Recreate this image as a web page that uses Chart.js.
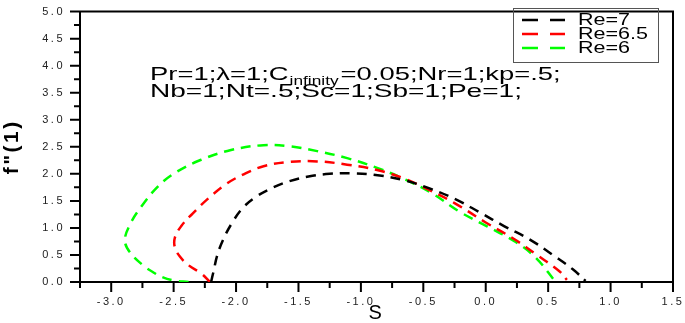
<!DOCTYPE html>
<html lang="en">
<head>
<meta charset="UTF-8">
<title>f"(1) against S</title>
<script src="https://cdn.jsdelivr.net/npm/chart.js@4.4.1/dist/chart.umd.min.js"></script>
<style>
  html, body { margin: 0; padding: 0; background: #fff; }
</style>
</head>
<body>
<canvas id="chart" width="685" height="323"></canvas>
<script>
// S values and f"(1) values
const sRe7 = [-2.20, -2.18, -2.15, -2.10, -2.03, -1.95, -1.85, -1.72, -1.58, -1.42, -1.25, -1.05, -0.85, -0.65, -0.45, -0.25, -0.05, 0.15, 0.35, 0.55, 0.70, 0.80];
const fRe7 = [0.00, 0.20, 0.50, 0.80, 1.10, 1.36, 1.56, 1.73, 1.86, 1.95, 2.00, 2.01, 1.97, 1.88, 1.73, 1.54, 1.29, 1.03, 0.79, 0.48, 0.23, 0.02];

const sRe65 = [-2.21, -2.28, -2.38, -2.45, -2.49, -2.49, -2.44, -2.35, -2.22, -2.08, -1.95, -1.78, -1.57, -1.35, -1.11, -0.87, -0.65, -0.45, -0.25, 0.00, 0.23, 0.41, 0.59, 0.65];
const fRe65 = [0.00, 0.16, 0.31, 0.47, 0.64, 0.82, 1.03, 1.26, 1.55, 1.81, 1.98, 2.14, 2.22, 2.23, 2.17, 2.07, 1.91, 1.70, 1.46, 1.10, 0.79, 0.50, 0.20, 0.04];

const sRe6 = [-2.38, -2.50, -2.60, -2.67, -2.73, -2.84, -2.89, -2.85, -2.76, -2.62, -2.48, -2.28, -2.04, -1.78, -1.57, -1.35, -1.11, -0.87, -0.65, -0.43, -0.21, 0.01, 0.24, 0.40, 0.56];
const fRe6 = [0.00, 0.03, 0.10, 0.19, 0.28, 0.52, 0.76, 1.06, 1.39, 1.78, 2.03, 2.26, 2.44, 2.53, 2.51, 2.42, 2.29, 2.11, 1.90, 1.64, 1.30, 1.03, 0.74, 0.45, 0.00];

const seriesLabels = ['Re=7', 'Re=6.5', 'Re=6'];
const seriesColors = ['#000000', '#ff0000', '#00ff00'];

// tick positions (quarter steps, labels only on the halves)
const xTicks = [-3.25, -3.0, -2.75, -2.5, -2.25, -2.0, -1.75, -1.5, -1.25, -1.0, -0.75, -0.5, -0.25, 0.0, 0.25, 0.5, 0.75, 1.0, 1.25, 1.5];
const yTicks = [0.0, 0.25, 0.5, 0.75, 1.0, 1.25, 1.5, 1.75, 2.0, 2.25, 2.5, 2.75, 3.0, 3.25, 3.5, 3.75, 4.0, 4.25, 4.5, 4.75, 5.0];

const noteLine1 = ['Pr=1;\u03bb=1;C', 'infinity', '=0.05;Nr=1;kp=.5;'];
const noteLine2 = 'Nb=1;Nt=.5;Sc=1;Sb=1;Pe=1;';

const FONT = '"Liberation Sans", Arial, sans-serif';
const isMajor = v => Math.abs(v * 2 - Math.round(v * 2)) < 1e-6;

function pts(xs, ys) {
    return xs.map((x, i) => ({ x: x, y: ys[i] }));
}

// the original text is stretched sideways, so draw it squeezed into a width
function wideText(ctx, text, x, y, sx) {
    ctx.save();
    ctx.translate(x, y);
    ctx.scale(sx, 1);
    ctx.fillText(text, 0, 0);
    ctx.restore();
}

// ticks, frame, note text and the legend box
const decorations = {
    id: 'decorations',
    beforeDraw(chart) {
        chart.ctx.letterSpacing = '2.5px';
    },
    beforeDatasetsDraw(chart) {
        chart.ctx.letterSpacing = '0px';
    },
    afterDraw(chart) {
        const ctx = chart.ctx;
        const a = chart.chartArea;
        const x = chart.scales.x, y = chart.scales.y;
        ctx.save();
        ctx.letterSpacing = '0px';
        ctx.strokeStyle = '#000';
        ctx.lineWidth = 2;
        ctx.beginPath();
        xTicks.forEach(v => {
            const px = x.getPixelForValue(v);
            ctx.moveTo(px, a.bottom);
            ctx.lineTo(px, a.bottom + (isMajor(v) ? 10 : 6));
        });
        yTicks.forEach(v => {
            const py = y.getPixelForValue(v);
            ctx.moveTo(a.left, py);
            ctx.lineTo(a.left - (isMajor(v) ? 10 : 6), py);
        });
        ctx.stroke();
        // top and right frame
        ctx.beginPath();
        ctx.moveTo(a.left, a.top);
        ctx.lineTo(a.right, a.top);
        ctx.lineTo(a.right, a.bottom);
        ctx.stroke();

        // parameter note
        ctx.fillStyle = '#000';
        ctx.textBaseline = 'alphabetic';
        ctx.textAlign = 'left';
        const big = '19px ' + FONT, small = '12px ' + FONT;
        ctx.font = big;
        const w1 = ctx.measureText(noteLine1[0]).width;
        const w3 = ctx.measureText(noteLine1[2]).width;
        const w4 = ctx.measureText(noteLine2).width;
        ctx.font = small;
        const w2 = ctx.measureText(noteLine1[1]).width;
        const sx1 = 412 / (w1 + w2 + w3 + 3);
        let tx = 150;
        ctx.font = big;
        wideText(ctx, noteLine1[0], tx, 80, sx1);
        tx += w1 * sx1 + 1;
        ctx.font = small;
        wideText(ctx, noteLine1[1], tx, 85, sx1);
        tx += w2 * sx1 + 2;
        ctx.font = big;
        wideText(ctx, noteLine1[2], tx, 80, sx1);
        wideText(ctx, noteLine2, 150, 97, 372 / w4);

        // legend
        ctx.lineWidth = 1;
        ctx.strokeStyle = '#555';
        ctx.strokeRect(513.5, 8.5, 145, 54);
        const rows = [20, 34, 48];
        ctx.font = '16px ' + FONT;
        const sxl = 70 / ctx.measureText('Re=6.5').width;
        chart.data.datasets.forEach((ds, i) => {
            ctx.strokeStyle = ds.borderColor;
            ctx.lineWidth = 2.5;
            ctx.beginPath();
            ctx.moveTo(522, rows[i]); ctx.lineTo(538, rows[i]);
            ctx.moveTo(550, rows[i]); ctx.lineTo(565, rows[i]);
            ctx.stroke();
            ctx.fillStyle = '#000';
            ctx.textBaseline = 'middle';
            wideText(ctx, ds.label, 578, rows[i] + 1, sxl);
        });
        ctx.restore();
    }
};

const datasets = [[sRe7, fRe7], [sRe65, fRe65], [sRe6, fRe6]].map((d, i) => ({
    label: seriesLabels[i],
    data: pts(d[0], d[1]),
    borderColor: seriesColors[i],
    backgroundColor: seriesColors[i],
    borderWidth: 2.5,
    borderDash: [10, 7],
    showLine: true,
    pointRadius: 0,
    tension: 0.4,
    fill: false
}));

new Chart(document.getElementById('chart'), {
    type: 'scatter',
    data: { datasets: datasets },
    plugins: [decorations],
    options: {
        responsive: false,
        animation: false,
        layout: { padding: { top: 5, right: 12, left: 0, bottom: 0 } },
        plugins: { legend: { display: false }, tooltip: { enabled: false } },
        scales: {
            x: {
                type: 'linear',
                min: -3.25,
                max: 1.5,
                afterBuildTicks: s => { s.ticks = xTicks.map(v => ({ value: v })); },
                afterFit: s => { s.height = 41; },
                ticks: {
                    autoSkip: false,
                    maxRotation: 0,
                    padding: 3,
                    color: '#222',
                    font: { family: FONT, size: 11 },
                    callback: v => isMajor(v) ? v.toFixed(1) : ''
                },
                grid: { drawOnChartArea: false, drawTicks: true, tickLength: 10, tickColor: 'rgba(0,0,0,0)' },
                border: { color: '#000', width: 2 },
                title: { display: true, text: 'S', color: '#000', font: { family: FONT, size: 20, lineHeight: 1 }, padding: { top: 0, bottom: 0 } }
            },
            y: {
                type: 'linear',
                min: 0,
                max: 5,
                afterBuildTicks: s => { s.ticks = yTicks.map(v => ({ value: v })); },
                afterFit: s => { s.width = 80; },
                ticks: {
                    autoSkip: false,
                    padding: 5,
                    color: '#222',
                    font: { family: FONT, size: 11 },
                    callback: v => isMajor(v) ? v.toFixed(1) : ''
                },
                grid: { drawOnChartArea: false, drawTicks: true, tickLength: 10, tickColor: 'rgba(0,0,0,0)' },
                border: { color: '#000', width: 2 },
                title: { display: true, text: 'f"(1)', color: '#000', font: { family: FONT, size: 21, weight: 'bold', lineHeight: 1 }, padding: { top: 2, bottom: 0 } }
            }
        }
    }
});
</script>
</body>
</html>
